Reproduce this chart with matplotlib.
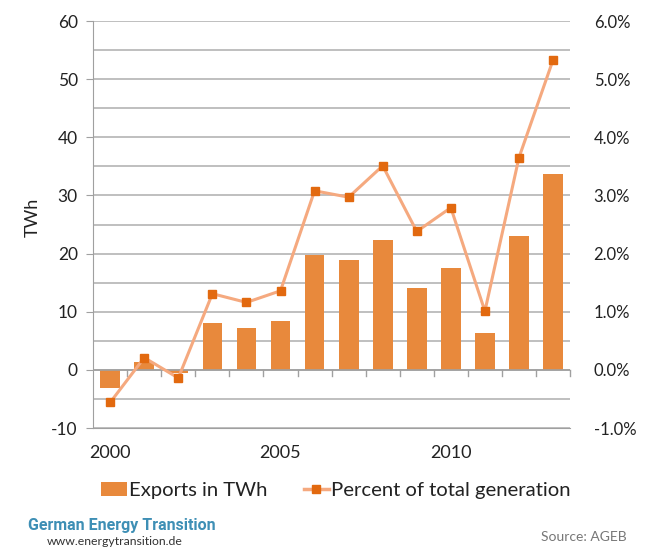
import matplotlib
matplotlib.use("Agg")
import matplotlib.pyplot as plt
from matplotlib.lines import Line2D
from matplotlib.patches import Patch
import numpy as np

years = [2000, 2001, 2002, 2003, 2004, 2005, 2006, 2007, 2008, 2009, 2010, 2011, 2012, 2013]
exports_twh = [-3.1, 1.3, -0.5, 8.0, 7.2, 8.4, 19.8, 18.9, 22.4, 14.1, 17.6, 6.3, 23.0, 33.7]
percent_gen = [-0.56, 0.21, -0.14, 1.31, 1.16, 1.36, 3.08, 2.97, 3.51, 2.38, 2.79, 1.01, 3.65, 5.33]
left_ticks = [-10, 0, 10, 20, 30, 40, 50, 60]
right_ticks = [-1.0, 0.0, 1.0, 2.0, 3.0, 4.0, 5.0, 6.0]
xtick_years = [2000, 2005, 2010]

plt.rcParams['font.family'] = ['Lato', 'DejaVu Sans']

bar_color = '#E8893C'
line_color = '#F5A97F'
marker_color = '#E2690F'
grid_color = '#B4B4B4'
text_color = '#222222'

fig = plt.figure(figsize=(6.56, 5.53), dpi=100)
ax = fig.add_axes([0.142, 0.226, 0.727, 0.736])
x = np.arange(len(years))

ax.bar(x, exports_twh, width=0.58, color=bar_color, zorder=3)
ax.set_xlim(-0.5, len(years) - 0.5)
ax.set_ylim(-10, 60)
ax.set_yticks(left_ticks)
ax.set_yticklabels([str(t) for t in left_ticks], fontsize=12.5, color=text_color)
ax.set_yticks(np.arange(-5, 60, 10), minor=True)
ax.grid(axis='y', which='both', color=grid_color, linewidth=1.2, zorder=0)
ax.set_ylabel('TWh', fontsize=13, color=text_color)
ax.yaxis.set_label_coords(-0.11, 0.518)

for s in ['top', 'right']:
    ax.spines[s].set_visible(False)
ax.spines['left'].set_color('#A0A0A0')
ax.spines['bottom'].set_color('#A0A0A0')
ax.tick_params(axis='y', which='major', length=5, color='#A0A0A0', pad=6)
ax.tick_params(axis='y', which='minor', length=0)
ax.tick_params(axis='x', which='both', length=0)
ax.axhline(0, color='#A0A0A0', linewidth=1.2, zorder=4)
# tick marks on zero line between categories
for b in np.arange(0.5, len(years), 1.0):
    ax.plot([b, b], [0, -1.0], color='#A0A0A0', linewidth=1.0, zorder=4, clip_on=False)

ax.set_xticks([years.index(y) for y in xtick_years])
ax.set_xticklabels([str(y) for y in xtick_years], fontsize=13, color=text_color)
ax.tick_params(axis='x', pad=12)

ax2 = ax.twinx()
ax2.set_ylim(-1.0, 6.0)
ax2.plot(x, percent_gen, color=line_color, linewidth=2.2, zorder=5,
         marker='s', markersize=6, markerfacecolor=marker_color, markeredgecolor=marker_color)
ax2.set_yticks(right_ticks)
ax2.set_yticklabels(['%.1f%%' % t for t in right_ticks], fontsize=12, color=text_color)
ax2.tick_params(axis='y', length=0, pad=17)
for s in ['top', 'right', 'left', 'bottom']:
    ax2.spines[s].set_visible(False)

handles = [Patch(facecolor=bar_color, edgecolor='none'),
           Line2D([0], [0], color=line_color, linewidth=2.5, marker='s', markersize=6,
                  markerfacecolor=marker_color, markeredgecolor=marker_color)]
fig.legend(handles, ['Exports in TWh', 'Percent of total generation'],
           loc='center', bbox_to_anchor=(0.512, 0.113), ncol=2, frameon=False,
           fontsize=14.6, handlelength=1.25, handletextpad=0.1, columnspacing=1.8,
           labelcolor=text_color)

fig.text(0.043, 0.049, 'German Energy Transition', fontsize=11.5, color='#3E8FB5',
         fontweight='bold', family=['Roboto', 'DejaVu Sans'], va='center', ha='left')
fig.text(0.072, 0.020, 'www.energytransition.de', fontsize=8.8, color='#333333',
         va='center', ha='left')
fig.text(0.956, 0.029, 'Source: AGEB', fontsize=10, color='#777777', va='center', ha='right')

fig.savefig('out.png', dpi=100, facecolor='white')
